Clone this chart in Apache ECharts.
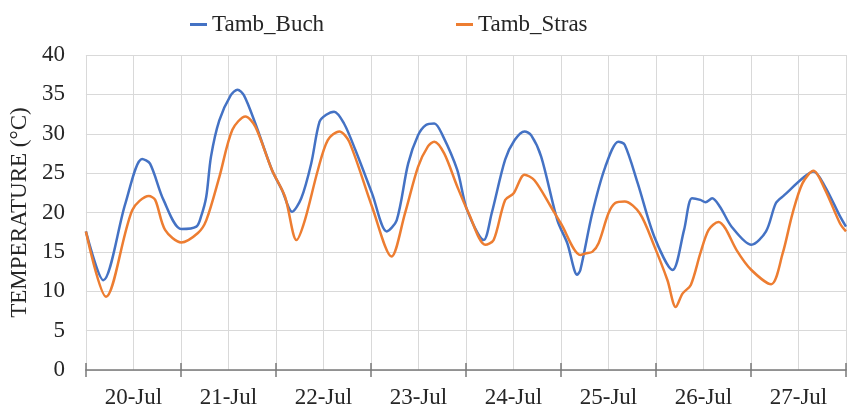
<!DOCTYPE html>
<html>
<head>
<meta charset="utf-8">
<script src="https://cdn.jsdelivr.net/npm/echarts@6/dist/echarts.min.js"></script>
<style>html,body{margin:0;padding:0;background:#fff;}#c{width:849px;height:416px;}</style>
</head>
<body>
<div id="c"></div>
<script>
// Hours since 20-Jul 00:00
const dayLabels = ['20-Jul','21-Jul','22-Jul','23-Jul','24-Jul','25-Jul','26-Jul','27-Jul'];
const yTicks = [0,5,10,15,20,25,30,35,40];

const buchHours = [0,4.4,10.0,14.2,16.2,19.6,24.1,27.9,29.1,30.4,31.6,33.7,36.6,38.3,39.9,42.8,47.0,49.5,52.1,54.4,56.9,59.0,60.7,62.7,65.2,68.1,72.3,76.0,78.5,81.4,83.9,85.9,88.0,90.1,93.8,96.3,100.5,102.5,105.9,108.3,110.8,112.5,115.0,119.1,121.6,124.1,124.9,127.9,131.2,134.5,136.1,139.4,143.6,148.2,151.1,153.1,155.2,156.5,158.2,160.2,163.1,168.1,171.8,174.3,176.4,181.4,183.8,186.7,190.5,192];
const buchTemps = [17.6,11.4,21.2,26.8,26.2,21.6,17.9,18.2,19.5,22.0,27.1,31.7,34.9,35.6,34.9,31.3,25.4,22.9,20.1,21.8,26.2,31.5,32.4,32.8,31.3,27.9,22.4,17.6,19.0,26.2,29.8,31.1,31.3,29.8,25.4,20.3,16.5,19.9,26.7,29.2,30.3,29.8,27.1,19.0,16.1,12.1,12.7,19.9,25.8,29.0,28.6,23.7,16.9,12.7,17.8,21.8,21.6,21.3,21.8,20.7,18.2,15.9,17.6,21.2,22.2,24.5,25.2,23.3,19.5,18.2];

const strasHours = [0,5.1,11.7,15.9,17.5,20.0,24.1,28.3,30.4,33.7,37.0,40.3,42.8,47.0,50.3,53.2,55.3,58.6,61.1,64.0,66.5,72.3,77.2,80.6,83.9,86.4,88.0,90.5,93.8,96.7,100.9,103.0,105.9,108.0,110.8,113.3,117.5,120.0,124.9,126.2,127.9,129.5,132.0,133.7,136.1,139.9,143.6,146.9,149.0,150.7,152.8,155.2,157.3,159.8,161.5,164.4,168.1,173.1,176.0,178.5,181.0,183.8,186.7,190.5,192];
const strasTemps = [17.6,9.3,20.3,22.1,21.6,17.8,16.2,17.4,19.0,24.5,30.5,32.2,30.9,25.4,22.0,16.5,19.0,25.4,29.2,30.3,29.0,20.7,14.4,19.9,25.8,28.4,29.0,27.5,23.3,19.9,15.9,16.5,21.6,22.4,24.8,24.1,20.7,18.6,14.6,14.8,15.0,16.1,19.9,21.2,21.4,19.9,15.7,11.4,8.0,9.7,10.8,14.8,17.8,18.8,18.0,15.2,12.7,10.9,14.8,19.9,23.7,25.3,22.9,18.6,17.6];

const pair = (xs, ys) => xs.map((x, i) => [x, ys[i]]);
const FONT = '"Liberation Serif", "Times New Roman", serif';
const TXT = '#262626';

const chart = echarts.init(document.getElementById('c'), null, {renderer: 'canvas'});
chart.setOption({
  animation: false,
  backgroundColor: '#ffffff',
  grid: {left: 83, top: 55, width: 771, height: 315, containLabel: false},
  legend: [
    {data: ['Tamb_Buch'], left: 185, top: 8, icon: 'rect', itemWidth: 17, itemHeight: 3, itemGap: 0,
     textStyle: {fontFamily: FONT, fontSize: 23, color: TXT}},
    {data: ['Tamb_Stras'], left: 451, top: 8, icon: 'rect', itemWidth: 17, itemHeight: 3, itemGap: 0,
     textStyle: {fontFamily: FONT, fontSize: 23, color: TXT}}
  ],
  xAxis: [
    {
      type: 'value', min: 0, max: 192, interval: 12, position: 'bottom',
      axisLine: {show: true, lineStyle: {color: '#7a7a7a', width: 1.5}},
      axisTick: {show: false},
      splitLine: {show: true, lineStyle: {color: '#d9d9d9', width: 1}},
      axisLabel: {
        fontFamily: FONT, fontSize: 23, color: TXT, margin: 16,
        formatter: v => (v % 24 === 12 ? dayLabels[(v - 12) / 24] : '')
      }
    },
    {
      type: 'value', min: 0, max: 192, interval: 24, position: 'bottom', offset: -7,
      axisLine: {show: false},
      axisTick: {show: true, length: 14, lineStyle: {color: '#7a7a7a', width: 1.5}},
      axisLabel: {show: false},
      splitLine: {show: false}
    }
  ],
  yAxis: {
    type: 'value', min: 0, max: 40, interval: 5,
    name: 'TEMPERATURE (°C)', nameLocation: 'middle', nameGap: 50, nameRotate: 90,
    nameTextStyle: {fontFamily: FONT, fontSize: 23, color: TXT},
    axisLine: {show: false}, axisTick: {show: false},
    splitLine: {show: true, lineStyle: {color: '#d9d9d9', width: 1}},
    axisLabel: {fontFamily: FONT, fontSize: 23, color: TXT, margin: 21,
      formatter: v => (yTicks.indexOf(v) >= 0 ? String(v) : '')}
  },
  series: [
    {name: 'Tamb_Buch', type: 'line', xAxisIndex: 0, data: pair(buchHours, buchTemps),
     showSymbol: false, smooth: 0.3, color: '#4472C4', lineStyle: {width: 2.5, color: '#4472C4'}},
    {name: 'Tamb_Stras', type: 'line', xAxisIndex: 0, data: pair(strasHours, strasTemps),
     showSymbol: false, smooth: 0.3, color: '#ED7D31', lineStyle: {width: 2.5, color: '#ED7D31'}}
  ]
});
</script>
</body>
</html>
